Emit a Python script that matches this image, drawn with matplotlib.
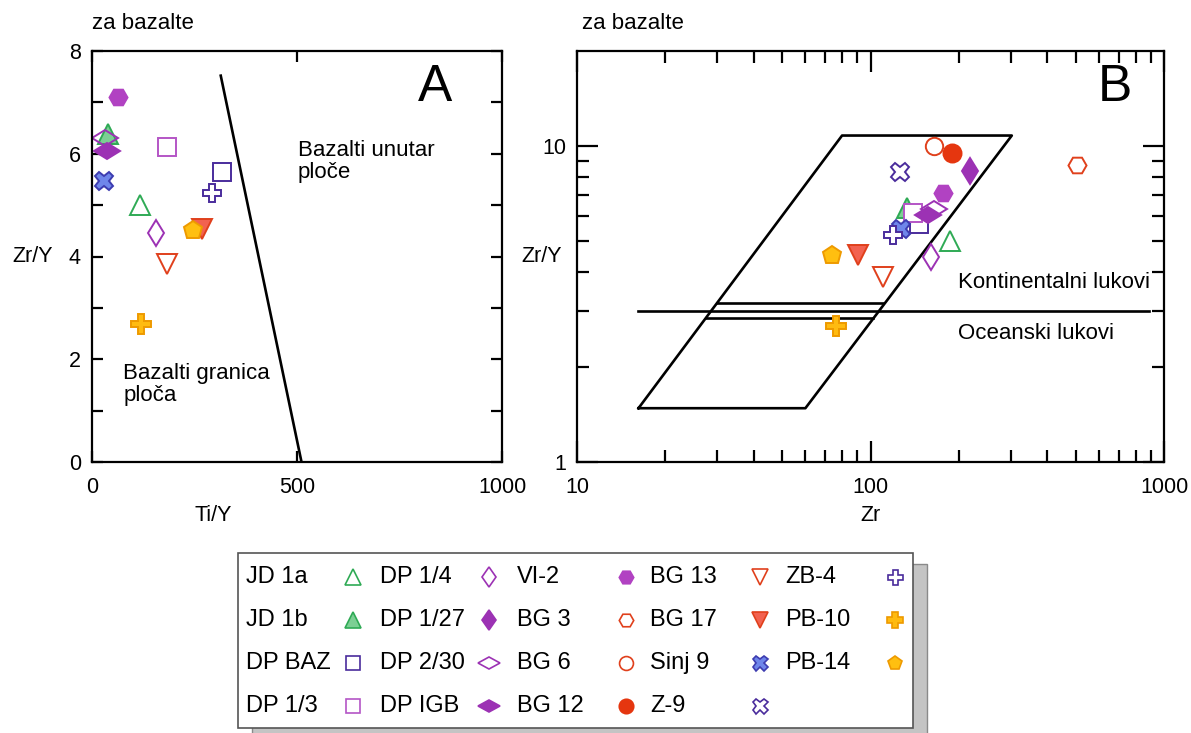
import numpy as np
import matplotlib
matplotlib.use("Agg")
import matplotlib.pyplot as plt
from matplotlib.markers import MarkerStyle
from matplotlib.transforms import Affine2D
from matplotlib.ticker import FixedLocator, NullFormatter, FuncFormatter
from matplotlib.patches import Rectangle

plt.rcParams['font.family'] = ['Liberation Sans', 'DejaVu Sans']

# samples, in legend order
names = ["JD 1a", "JD 1b", "DP BAZ", "DP 1/3", "DP 1/4", "DP 1/27", "DP 2/30",
         "DP IGB", "VI-2", "BG 3", "BG 6", "BG 12", "BG 13", "BG 17", "Sinj 9",
         "Z-9", "ZB-4", "PB-10", "PB-14"]
ti_y = [117, 40, 316, 184, 156, np.nan, 32, 36, 64, np.nan, np.nan, np.nan,
        182, 268, 29, np.nan, 292, 119, 247]
zr_y = [5.0, 6.38, 5.65, 6.13, 4.46, 8.35, 6.3, 6.05, 7.1, 8.71, 10.0, 9.48,
        3.86, 4.53, 5.47, 8.29, 5.24, 2.69, 4.52]
zr = [186, 133, 146, 140, 161, 219, 165, 157, 176, 505, 164, 190,
      110, 91, 127, 126, 119, 76, 74]

# discrimination lines
line_a_x = [314, 511]
line_a_y = [7.52, 0]
box_b_x = [16.2, 80, 303, 60, 16.2]
box_b_y = [1.48, 10.8, 10.8, 1.48, 1.48]
arc_b_x = [16.2, 890]
arc_b_y = [3.0, 3.0]
upper_b_x = [29.9, 110]
upper_b_y = [3.18, 3.18]
lower_b_x = [27.6, 102]
lower_b_y = [2.85, 2.85]

# marker styles
tall_d = MarkerStyle('d', transform=Affine2D().scale(1.1, 1.0))
wide_d = MarkerStyle('d', transform=Affine2D().rotate_deg(90))
green = '#2faa55'
indigo = '#4a2c9c'
purple = '#9c32b4'
red = '#e0401c'
orange_e = '#ee9a00'
styles = [
    dict(marker='^', ms=15, mfc='white', mec=green),
    dict(marker='^', ms=15, mfc='#7ccf94', mec=green),
    dict(marker='s', ms=12.5, mfc='white', mec=indigo),
    dict(marker='s', ms=12.5, mfc='white', mec='#b455c6'),
    dict(marker=tall_d, ms=13, mfc='white', mec=purple),
    dict(marker=tall_d, ms=13, mfc=purple, mec=purple),
    dict(marker=wide_d, ms=13.5, mfc='white', mec=purple),
    dict(marker=wide_d, ms=13.5, mfc=purple, mec=purple),
    dict(marker='H', ms=13, mfc='#b142c2', mec='#b142c2'),
    dict(marker='H', ms=13, mfc='white', mec=red),
    dict(marker='o', ms=12.5, mfc='white', mec=red),
    dict(marker='o', ms=13, mfc='#e5360f', mec='#e5360f'),
    dict(marker='v', ms=15, mfc='white', mec=red),
    dict(marker='v', ms=15, mfc='#f26250', mec=red),
    dict(marker='X', ms=13.5, mfc='#6f86ea', mec='#3d3cb0'),
    dict(marker='X', ms=13.5, mfc='white', mec=indigo),
    dict(marker='P', ms=13.5, mfc='white', mec=indigo),
    dict(marker='P', ms=14, mfc='#ffbb10', mec=orange_e),
    dict(marker='p', ms=13.5, mfc='#ffbf10', mec=orange_e),
]

W, H = 1191, 733
fig = plt.figure(figsize=(W / 100, H / 100), dpi=100)


def px_axes(x0, y0, x1, y1):
    return fig.add_axes([x0 / W, 1 - y1 / H, (x1 - x0) / W, (y1 - y0) / H])


axA = px_axes(92, 51, 502, 462)
axB = px_axes(577, 51, 1164, 462)

for ax in (axA, axB):
    for s in ax.spines.values():
        s.set_linewidth(1.6)

# panel A
axA.plot(line_a_x, line_a_y, color='black', lw=1.9)
for i in range(len(names)):
    st = dict(styles[i])
    if names[i] == "DP 2/30":
        st['mfc'] = 'none'   # the JD 1b triangle shows through here
    axA.plot(ti_y[i], zr_y[i], linestyle='none', mew=1.4, **st)
axA.set_xlim(0, 1000)
axA.set_ylim(0, 8)
axA.set_xticks([0, 500, 1000])
axA.set_yticks([0, 2, 4, 6, 8])
axA.set_yticks([1, 3, 5, 7], minor=True)
axA.tick_params(which='both', direction='in', top=True, right=True,
                length=8, width=1.6, labelsize=15.5)
axA.tick_params(axis='y', pad=8)
axA.tick_params(axis='x', pad=11)
axA.set_ylabel('Zr/Y', rotation=0, fontsize=15.5, ha='left', va='center')
axA.yaxis.set_label_coords(-0.195, 0.5)
axA.set_xlabel('Ti/Y', fontsize=15.5, va='center')
axA.xaxis.set_label_coords(0.295, -0.129)
axA.text(0, 1.068, 'za bazalte', transform=axA.transAxes, fontsize=16,
         ha='left', va='center')
axA.text(0.837, 0.91, 'A', transform=axA.transAxes, fontsize=37,
         ha='center', va='center')
axA.text(502, 5.85, 'Bazalti unutar\nploče', fontsize=16, ha='left',
         va='center', linespacing=1.1)
axA.text(76, 1.51, 'Bazalti granica\nploča', fontsize=16, ha='left',
         va='center', linespacing=1.1)

# panel B
axB.set_xscale('log')
axB.set_yscale('log')
axB.plot(box_b_x, box_b_y, color='black', lw=1.9)
axB.plot(arc_b_x, arc_b_y, color='black', lw=1.9)
axB.plot(upper_b_x, upper_b_y, color='black', lw=1.9)
axB.plot(lower_b_x, lower_b_y, color='black', lw=1.9)
for i in range(len(names)):
    axB.plot(zr[i], zr_y[i], linestyle='none', mew=1.4, **styles[i])
axB.set_xlim(10, 1000)
axB.set_ylim(1, 20)
axB.xaxis.set_major_locator(FixedLocator([10, 100, 1000]))
axB.xaxis.set_minor_locator(FixedLocator([k * d for d in (10, 100) for k in range(2, 10)]))
axB.yaxis.set_major_locator(FixedLocator([1, 10]))
axB.yaxis.set_minor_locator(FixedLocator([2, 3, 4, 5, 6, 7, 8, 9]))
fmt = FuncFormatter(lambda v, p: f"{v:g}")
axB.xaxis.set_major_formatter(fmt)
axB.yaxis.set_major_formatter(fmt)
axB.xaxis.set_minor_formatter(NullFormatter())
axB.yaxis.set_minor_formatter(NullFormatter())
axB.tick_params(which='both', direction='in', top=True, right=True,
                width=1.6, labelsize=15.5)
axB.tick_params(which='major', length=15)
axB.tick_params(which='minor', length=8.5)
axB.tick_params(axis='y', pad=8)
axB.tick_params(axis='x', pad=11)
axB.set_ylabel('Zr/Y', rotation=0, fontsize=15.5, ha='left', va='center')
axB.yaxis.set_label_coords(-0.094, 0.5)
axB.set_xlabel('Zr', fontsize=15.5, va='center')
axB.xaxis.set_label_coords(0.5, -0.129)
axB.text(0.0085, 1.068, 'za bazalte', transform=axB.transAxes, fontsize=16,
         ha='left', va='center')
axB.text(0.917, 0.91, 'B', transform=axB.transAxes, fontsize=37,
         ha='center', va='center')
axB.text(199, 3.71, 'Kontinentalni lukovi', fontsize=16, ha='left', va='center')
axB.text(199, 2.56, 'Oceanski lukovi', fontsize=16, ha='left', va='center')

# legend drawn as a block below the panels
leg = fig.add_axes([0, 0, 1, 1])
leg.set_xlim(0, W)
leg.set_ylim(H, 0)
leg.axis('off')
leg.add_patch(Rectangle((252, 564), 675, 185, fc='#c4c4c4', ec='#8a8a8a', lw=1))
leg.add_patch(Rectangle((238, 553), 675, 175, fc='white', ec='#555555', lw=1.2))
text_x = [246, 380, 517, 650, 785]
mark_x = [353, 489, 626, 760, 895]
row_y = [577, 620, 663, 706]
for i, name in enumerate(names):
    c, r = divmod(i, 4)
    leg.text(text_x[c], row_y[r], name, fontsize=17, ha='left', va='center')
    st = dict(styles[i])
    st['ms'] = st['ms'] * 0.8
    leg.plot(mark_x[c], row_y[r], linestyle='none', mew=1.2, **st)

fig.savefig('out.png', dpi=100)
